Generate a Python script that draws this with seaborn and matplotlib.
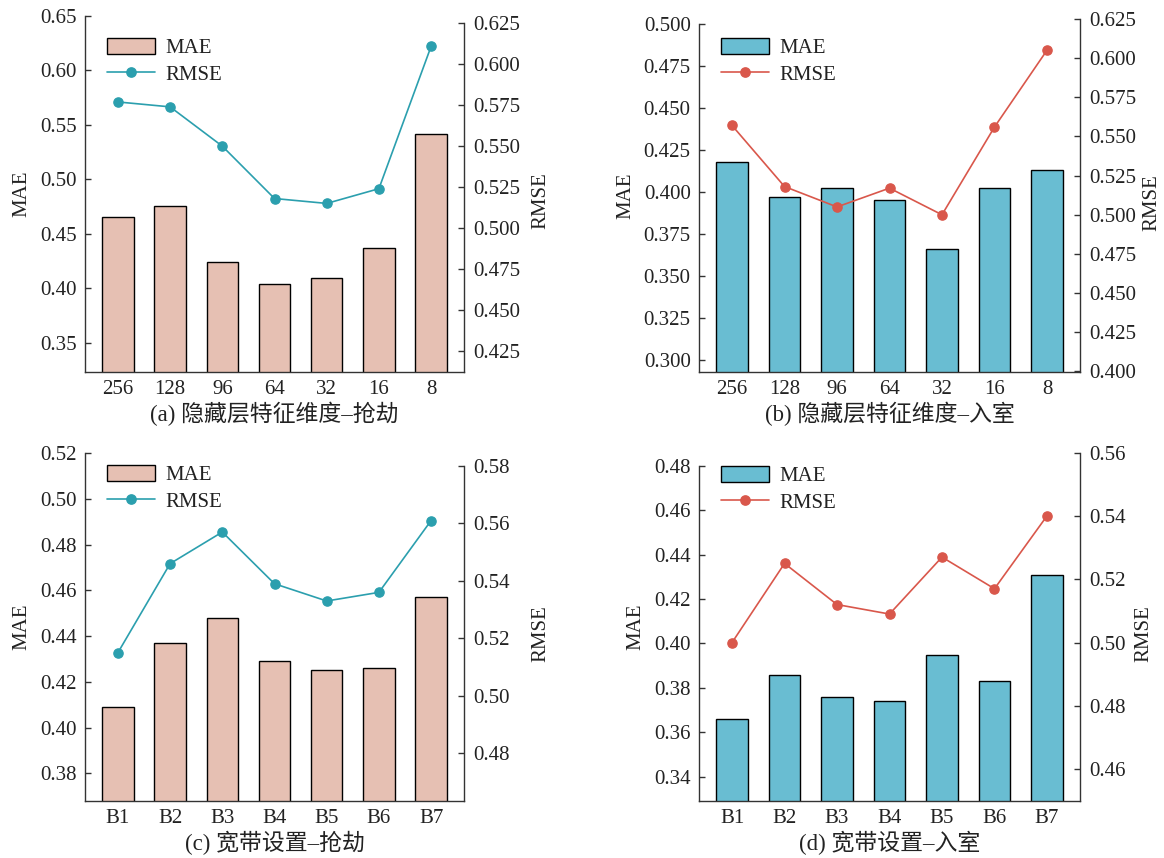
import numpy as np
import pandas as pd
import matplotlib
matplotlib.use("Agg")
import matplotlib.pyplot as plt
from matplotlib.ticker import FormatStrFormatter
from matplotlib.patches import Patch
from matplotlib.lines import Line2D
import seaborn as sns

# ---------------- data ----------------
hidden_dims = ["256", "128", "96", "64", "32", "16", "8"]
bands = ["B1", "B2", "B3", "B4", "B5", "B6", "B7"]

mae_a = [0.465, 0.475, 0.424, 0.404, 0.409, 0.437, 0.541]
rmse_a = [0.577, 0.574, 0.550, 0.518, 0.515, 0.524, 0.611]

mae_b = [0.418, 0.397, 0.402, 0.395, 0.366, 0.402, 0.413]
rmse_b = [0.557, 0.518, 0.505, 0.517, 0.500, 0.556, 0.605]

mae_c = [0.409, 0.437, 0.448, 0.429, 0.425, 0.426, 0.457]
rmse_c = [0.515, 0.546, 0.557, 0.539, 0.533, 0.536, 0.561]

mae_d = [0.366, 0.386, 0.376, 0.374, 0.395, 0.383, 0.431]
rmse_d = [0.500, 0.525, 0.512, 0.509, 0.527, 0.517, 0.540]

captions = ["(a) 隐藏层特征维度–抢劫", "(b) 隐藏层特征维度–入室",
            "(c) 宽带设置–抢劫", "(d) 宽带设置–入室"]

# ---------------- style ----------------
sns.set_style("ticks")
plt.rcParams["font.family"] = ["Liberation Serif", "Noto Sans CJK SC"]
plt.rcParams["axes.unicode_minus"] = False
TXT = "#222222"
plt.rcParams["text.color"] = TXT
plt.rcParams["axes.labelcolor"] = TXT
plt.rcParams["xtick.color"] = "#333333"
plt.rcParams["ytick.color"] = "#333333"
plt.rcParams["xtick.labelcolor"] = TXT
plt.rcParams["ytick.labelcolor"] = TXT
plt.rcParams["axes.edgecolor"] = "#333333"

PINK = "#E6C0B3"
BLUE = "#69BDD2"
TEAL = "#2B9FAE"
RED = "#D9574B"
FS = 15

W, H = 1164, 858
fig = plt.figure(figsize=(W / 100, H / 100), dpi=100)

# box = (left, right, top, bottom) in pixels; rmse_x = anchor of the right label
panels = [
    dict(cats=hidden_dims, mae=mae_a, rmse=rmse_a, bar=PINK, line=TEAL,
         box=(85, 464, 15.7, 372), rmse_x=531.5,
         ylim=(0.323, 0.65), yticks=np.arange(0.35, 0.651, 0.05), yfmt="%.2f",
         ylim2=(0.412, 0.6297), yticks2=np.arange(0.425, 0.6251, 0.025), yfmt2="%.3f",
         leg=(107, 47)),
    dict(cats=hidden_dims, mae=mae_b, rmse=rmse_b, bar=BLUE, line=RED,
         box=(699, 1080, 19, 372), rmse_x=1142,
         ylim=(0.2926, 0.503), yticks=np.arange(0.300, 0.5001, 0.025), yfmt="%.3f",
         ylim2=(0.3996, 0.625), yticks2=np.arange(0.400, 0.6251, 0.025), yfmt2="%.3f",
         leg=(721, 47)),
    dict(cats=bands, mae=mae_c, rmse=rmse_c, bar=PINK, line=TEAL,
         box=(85, 464, 453.3, 800.7), rmse_x=531.5,
         ylim=(0.368, 0.52), yticks=np.arange(0.38, 0.5201, 0.02), yfmt="%.2f",
         ylim2=(0.4635, 0.5844), yticks2=np.arange(0.48, 0.5801, 0.02), yfmt2="%.2f",
         leg=(107, 474)),
    dict(cats=bands, mae=mae_d, rmse=rmse_d, bar=BLUE, line=RED,
         box=(699, 1080, 452.7, 800.7), rmse_x=1134,
         ylim=(0.3292, 0.4859), yticks=np.arange(0.34, 0.4801, 0.02), yfmt="%.2f",
         ylim2=(0.45, 0.56), yticks2=np.arange(0.46, 0.5601, 0.02), yfmt2="%.2f",
         leg=(721, 475)),
]

for p, cap in zip(panels, captions):
    l, r, t, b = p["box"]
    ax = fig.add_axes([l / W, 1 - b / H, (r - l) / W, (b - t) / H])
    ax2 = ax.twinx()

    df = pd.DataFrame({"cat": p["cats"], "MAE": p["mae"], "RMSE": p["rmse"]})

    sns.barplot(data=df, x="cat", y="MAE", color=p["bar"], saturation=1,
                edgecolor="black", linewidth=1.0, width=0.6, ax=ax)
    sns.pointplot(data=df, x="cat", y="RMSE", color=p["line"], markers="o",
                  linestyles="-", markersize=6.7, linewidth=1.2, ax=ax2)

    n = len(p["cats"])
    ax.set_xlim(-0.63, n - 1 + 0.63)

    ax.set_ylim(*p["ylim"])
    ax.set_yticks(p["yticks"])
    ax.yaxis.set_major_formatter(FormatStrFormatter(p["yfmt"]))
    ax2.set_ylim(*p["ylim2"])
    ax2.set_yticks(p["yticks2"])
    ax2.yaxis.set_major_formatter(FormatStrFormatter(p["yfmt2"]))

    ax.set_ylabel("MAE", fontsize=FS, labelpad=6)
    ax2.set_ylabel("RMSE", fontsize=FS)
    ax2.yaxis.set_label_coords((p["rmse_x"] - l) / (r - l), 0.48)
    ax.set_xlabel(cap, fontsize=16.5, labelpad=2)

    ax.tick_params(axis="both", direction="in", length=4.5, width=1.0,
                   labelsize=FS, pad=6)
    ax.tick_params(axis="x", bottom=True)
    ax2.tick_params(axis="y", direction="in", length=4.5, width=1.0,
                    labelsize=FS, pad=6.5)

    # spines: open top, each y spine ends at its highest tick
    ax.spines["top"].set_visible(False)
    ax.spines["right"].set_visible(False)
    ax2.spines["top"].set_visible(False)
    ax2.spines["left"].set_visible(False)
    ax2.spines["bottom"].set_visible(False)
    ax.spines["left"].set_bounds(p["ylim"][0], p["yticks"][-1])
    ax2.spines["right"].set_bounds(p["ylim2"][0], p["yticks2"][-1])
    for sp in (ax.spines["left"], ax.spines["bottom"], ax2.spines["right"]):
        sp.set_linewidth(1.0)

    handles = [
        Patch(facecolor=p["bar"], edgecolor="black", linewidth=1.0, label="MAE"),
        Line2D([], [], color=p["line"], marker="o", markersize=6.7,
               linewidth=1.2, label="RMSE"),
    ]
    lx, ly = p["leg"]
    ax2.legend(handles=handles, loc="upper left",
               bbox_to_anchor=(lx / W, 1 - (ly - 9) / H),
               bbox_transform=fig.transFigure, frameon=False,
               fontsize=FS, borderpad=0, borderaxespad=0,
               handlelength=2.3, handleheight=0.8, handletextpad=0.5,
               labelspacing=0.3)

fig.savefig("out.png", dpi=100)
